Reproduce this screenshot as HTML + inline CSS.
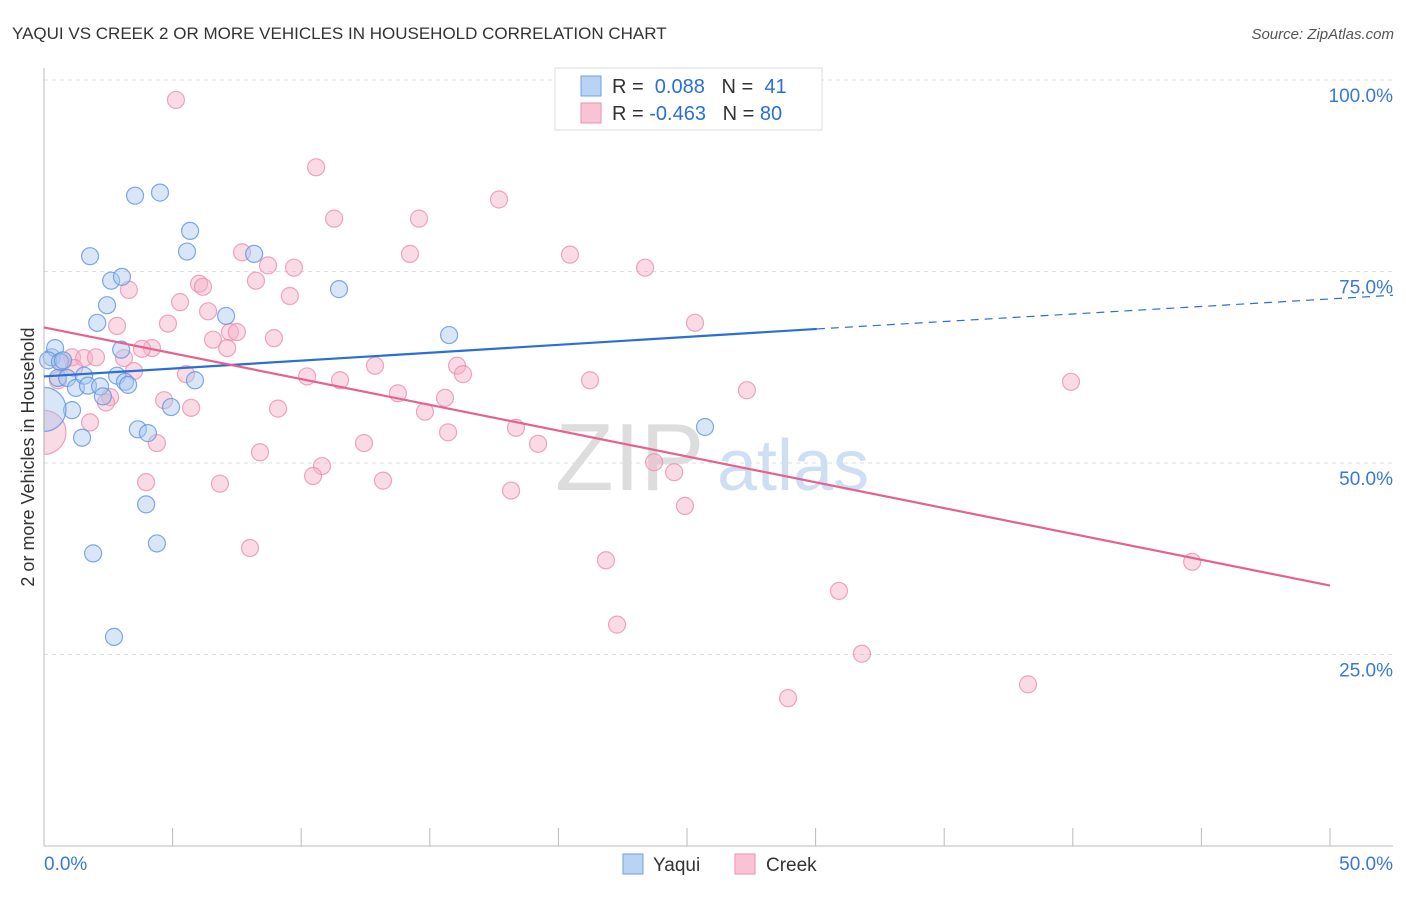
<!DOCTYPE html>
<html><head><meta charset="utf-8"><style>
body{margin:0;background:#fff;font-family:"Liberation Sans",sans-serif;}
svg text{font-family:"Liberation Sans",sans-serif;}
</style></head><body>
<svg id="chart" width="1406" height="892">
<text x="12" y="39" font-size="17" fill="#333">YAQUI VS CREEK 2 OR MORE VEHICLES IN HOUSEHOLD CORRELATION CHART</text>
<text x="1394" y="39" font-size="15" fill="#555" font-style="italic" text-anchor="end">Source: ZipAtlas.com</text>
<g id="grid"></g>
<text x="555" y="490" font-size="96" fill="#ddd" font-family="Liberation Serif">ZIP</text>
<text x="717" y="490" font-size="72" fill="#cfdff3">atlas</text>
<g id="pts"></g>
<g id="lines"></g>
<text transform="translate(34,457) rotate(-90)" font-size="18" fill="#333" text-anchor="middle">2 or more Vehicles in Household</text>
<g>
<rect x="555" y="68" width="267" height="62" fill="#fff" stroke="#ddd"/>
<rect x="581" y="76" width="20" height="20" fill="#b9d3f5" stroke="#6fa0e0"/>
<rect x="581" y="103" width="20" height="20" fill="#f8c4d5" stroke="#e890b0"/>
<text x="612" y="93" font-size="20" fill="#333">R = <tspan fill="#2a6fd6">&#160;0.088</tspan>&#160;&#160;&#160;N = <tspan fill="#2a6fd6">&#160;41</tspan></text>
<text x="612" y="120" font-size="20" fill="#333">R = <tspan fill="#2a6fd6">-0.463</tspan>&#160;&#160;&#160;N = <tspan fill="#2a6fd6">80</tspan></text>
</g>
<g>
<rect x="623" y="854" width="20" height="20" fill="#b9d3f5" stroke="#6fa0e0"/>
<text x="653" y="871" font-size="19" fill="#333">Yaqui</text>
<rect x="735" y="854" width="20" height="20" fill="#f8c4d5" stroke="#e890b0"/>
<text x="766" y="871" font-size="19" fill="#333">Creek</text>
</g>
</svg>
<script>
const yaquiX=[0.3,0.43,0.16,0.62,0.74,0.54,0.9,1.09,1.24,1.48,1.56,1.71,1.79,1.91,2.07,2.18,2.29,2.45,2.61,2.72,2.84,3.03,3.15,3.27,3.0,3.54,3.65,3.97,4.04,4.39,4.51,4.94,5.56,5.68,5.87,7.08,8.17,11.47,15.75,25.70,0.0];
const yaquiY=[63.8,65.0,63.4,63.2,63.4,61.1,61.1,56.9,59.8,53.3,61.4,60.1,77.0,38.2,68.3,60.0,58.7,70.6,73.8,27.3,61.4,74.3,60.6,60.2,64.8,84.9,54.4,44.6,53.9,39.5,85.3,57.3,77.6,80.3,60.8,69.2,77.3,72.7,66.7,54.7,57.0];
const creekX=[5.13,10.58,17.69,11.28,14.58,7.70,14.23,20.45,23.37,8.71,8.24,9.72,6.03,6.18,3.30,9.56,5.29,6.38,2.84,4.82,25.31,7.23,7.50,6.57,8.94,7.12,4.20,3.81,1.09,1.56,2.02,3.11,0.70,1.17,3.50,5.52,10.23,11.51,12.87,16.06,16.29,21.23,39.93,27.33,13.76,2.57,2.41,4.67,5.72,9.10,14.81,15.59,1.79,15.71,18.35,12.44,19.21,4.39,8.40,10.81,23.72,24.50,10.46,13.18,3.97,6.84,18.16,24.92,8.01,21.85,44.64,22.28,30.91,31.80,28.93,38.26,0.0,0.54];
const creekY=[97.4,88.6,84.4,81.9,81.9,77.5,77.3,77.2,75.5,75.8,73.8,75.5,73.4,73.0,72.6,71.8,71.0,69.8,67.9,68.2,68.3,67.1,67.1,66.1,66.3,65.0,65.0,64.9,63.8,63.7,63.8,63.7,63.1,62.4,62.0,61.6,61.3,60.8,62.7,62.7,61.6,60.8,60.6,59.5,59.1,58.6,57.9,58.2,57.2,57.1,56.7,58.5,55.3,54.0,54.6,52.6,52.5,52.6,51.4,49.6,50.1,48.8,48.3,47.7,47.5,47.3,46.4,44.4,38.9,37.3,37.1,28.9,33.3,25.1,19.3,21.1,54.0,60.8];
const yaquiR=[0.088], creekR=[-0.463];
const X0=44,X1=1330,Y0=846,Y100=80;
const sx=v=>X0+(X1-X0)*v/50, sy=v=>Y0-(Y0-Y100)*v/100;
const NS="http://www.w3.org/2000/svg";
function mk(t,a,p){const e=document.createElementNS(NS,t);for(const k in a)e.setAttribute(k,a[k]);p.appendChild(e);return e;}
const grid=document.getElementById('grid');
[25,50,75,100].forEach(v=>{
 const l=mk('line',{x1:X0,x2:1393,y1:sy(v),y2:sy(v),stroke:'#ddd','stroke-dasharray':'4,4'},grid);
 
 
 const t=mk('text',{x:1393,y:sy(v)+22,'font-size':19,fill:'#3a78d8','text-anchor':'end'},grid);
 t.textContent=v.toFixed(1)+'%';
 
 
});
const bx=mk('line',{x1:X0,x2:1393,y1:Y0,y2:Y0,stroke:'#bbb'},grid);


for(let i=0;i<=10;i++){const x=sx(i*5);const tk=mk('line',{x1:x,x2:x,y1:Y0,y2:Y0-18,stroke:'#bbb'},grid);
 
 }
[[0,'0.0%','start',44],[50,'50.0%','end',1393]].forEach(([v,s,a,x])=>{const t=mk('text',{x:x,y:870,'font-size':19,fill:'#3a78d8','text-anchor':a},grid);t.textContent=s;
 
 });
const pts=document.getElementById('pts');
function draw(xs,ys,fill,stroke,name){xs.forEach((x,i)=>{
 const cx=sx(x),cy=sy(ys[i]);let c;
 if(x===0){const r=22;
  c=mk('path',{d:`M${cx},${cy-r} A${r},${r} 0 0 1 ${cx},${cy+r} Z`,fill:fill,'fill-opacity':0.45,stroke:stroke,'stroke-opacity':0.8,'stroke-width':1.2},pts);
 } else {
  c=mk('circle',{cx:cx,cy:cy,r:8.5,fill:fill,'fill-opacity':0.45,stroke:stroke,'stroke-opacity':0.8,'stroke-width':1.2},pts);
 }
 
 });}
draw(creekX,creekY,'#f5b0c6','#e890b0','creek-point');
draw(yaquiX,yaquiY,'#a9c8f0','#5f95dd','yaqui-point');
const lines=document.getElementById('lines');
const ax=mk('line',{x1:X0,x2:X0,y1:68,y2:Y0,stroke:'#bbb'},lines);


const yaquiTrend=[61.3,67.5,71.9], creekTrend=[67.7,34.0];
let l=mk('line',{x1:sx(0),y1:sy(yaquiTrend[0]),x2:sx(30.05),y2:sy(yaquiTrend[1]),stroke:'#2a6fd6','stroke-width':2.2},lines);


l=mk('line',{x1:sx(30.05),y1:sy(yaquiTrend[1]),x2:sx(52.45),y2:sy(yaquiTrend[2]),stroke:'#2a6fd6','stroke-width':1.2,'stroke-dasharray':'8,6'},lines);


l=mk('line',{x1:sx(0),y1:sy(creekTrend[0]),x2:sx(50),y2:sy(creekTrend[1]),stroke:'#e5628f','stroke-width':2.2},lines);


</script>
</body></html>
